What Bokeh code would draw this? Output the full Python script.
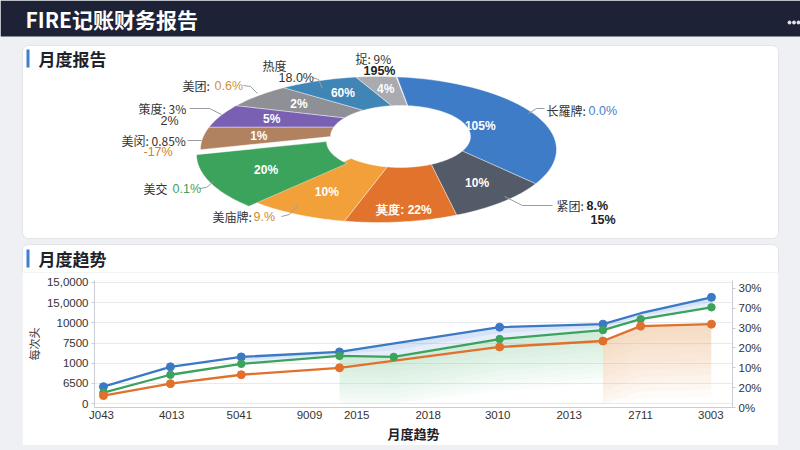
import numpy as np
from bokeh.plotting import figure
from bokeh.layouts import column, row
from bokeh.models import Range1d, LinearAxis, FixedTicker
from bokeh.core.properties import value
from bokeh.embed import file_html
from bokeh.resources import INLINE

CJK = "Noto Sans CJK SC"
LAT = "Liberation Sans"
BG = "#eef0f3"

# ---------------- donut: monthly report ----------------
slice_share = [31.1, 10.0, 10.3, 9.4, 12.5, 5.0, 5.3, 5.8, 6.9, 3.6]
slice_text = ["105%", "10%", "莫度: 22%", "10%", "20%", "1%", "5%", "2%", "60%", "4%"]
slice_color = ["#3f7cc8", "#535a68", "#e2732c", "#f2a03a", "#3ca35c",
               "#b0825f", "#7a60b2", "#8e9096", "#3f86b6", "#a9abb0"]

callout_name = ["长羅牌:", "紧团:", "美庙牌:", "美交", "美闵: 0.85%", "策度: 3%", "美团:", "热度", "捉: 9%"]
callout_value = ["0.0%", "8.%", "9.%", "0.1%", "", "", "0.6%", "", ""]
callout_sub = ["", "15%", "", "", "-17%", "2%", "", "18.0%", "195%"]

# ---------------- trend chart ----------------
x_tick_at = [1.1, 12.1, 22.7, 33.7, 41.1, 52.3, 63.2, 74.4, 85.6, 96.6]
x_tick_text = ["J043", "4013", "5041", "9009", "2015", "2018", "3010", "2013", "2711", "3003"]
y_left_ticks = [0, 2500, 5000, 7500, 10000, 12500, 15000]
y_left_text = ["0", "6500", "1000", "7500", "10000", "15,0000", "15,0000"]
y_right_ticks = [0, 1, 2, 3, 4, 5, 6]
y_right_text = ["0%", "20%", "10%", "20%", "30%", "70%", "30%"]

blue_x = [1.4, 11.9, 23.0, 38.4, 63.5, 79.7, 85.6, 96.7]
blue_y = [2090, 4549, 5779, 6393, 9467, 9836, 11188, 13155]
green_x = [1.4, 11.9, 23.0, 38.4, 46.9, 63.5, 79.7, 85.6, 96.7]
green_y = [1352, 3566, 4918, 5902, 5779, 7992, 9098, 10451, 11926]
orange_x = [1.4, 11.9, 23.0, 38.4, 63.5, 79.7, 85.6, 96.7]
orange_y = [984, 2459, 3566, 4426, 7008, 7746, 9590, 9836]

BLUE, GREEN, ORANGE = "#3b79c4", "#3ca35c", "#e0702c"

# =========== top canvas: header, report card, donut ===========
p1 = figure(width=800, height=272, x_range=Range1d(0, 800), y_range=Range1d(272, 0),
            output_backend="svg", toolbar_location=None, min_border=0,
            x_axis_location=None, y_axis_location=None)
p1.grid.visible = False
p1.outline_line_color = None
p1.background_fill_color = BG
p1.border_fill_color = BG

# header bar
p1.quad(left=0, right=800, top=0, bottom=36, fill_color="#1d2236", line_color=None)
p1.text(x=[25], y=[18], text=["FIRE记账财务报告"], text_font=value(CJK), text_font_size="21px",
        text_font_style="bold", text_color="#ffffff", text_baseline="middle")
p1.scatter(x=[789, 793.5, 798], y=[22, 22, 22], size=3, color="#e8eaf0")

# cards
p1.quad(left=22, right=778, top=45, bottom=238, fill_color="#ffffff", line_color="#e2e4e8",
        border_radius=6)
p1.quad(left=22, right=778, top=244, bottom=300, fill_color="#ffffff", line_color="#e2e4e8",
        border_radius=6)
for ty, title in [(58, "月度报告"), (258, "月度趋势")]:
    p1.quad(left=26, right=29, top=ty - 9, bottom=ty + 9, fill_color="#3d7fd0", line_color=None)
    p1.text(x=[38], y=[ty], text=[title], text_font=value(CJK), text_font_size="17px",
            text_font_style="bold", text_color="#1f2329", text_baseline="middle")

# elliptical ring seen in perspective
OCX, OCY, ORX, ORY = 378, 149, 178, 73
ICX, ICY, IRX, IRY = 400, 136, 70, 31
explode = {4: (-4, 5)}

xs, ys, cxs, cys = [], [], [], []
t0 = 84.0
for i, share in enumerate(slice_share):
    span = share / 100 * 360
    t = np.radians(np.linspace(t0, t0 - span, 40))
    dx, dy = explode.get(i, (0, 0))
    ox = OCX + ORX * np.cos(t) + dx
    oy = OCY - ORY * np.sin(t) + dy
    ix = ICX + IRX * np.cos(t[::-1]) + dx
    iy = ICY - IRY * np.sin(t[::-1]) + dy
    px = np.concatenate([ox, ix])
    py = np.concatenate([oy, iy])
    xs.append(px)
    ys.append(py)
    # polygon centroid for the in-slice label
    x1, y1 = np.roll(px, -1), np.roll(py, -1)
    cr = px * y1 - x1 * py
    a = cr.sum() / 2
    cxs.append(((px + x1) * cr).sum() / (6 * a))
    cys.append(((py + y1) * cr).sum() / (6 * a))
    t0 -= span

p1.patches(xs=xs, ys=ys, fill_color=slice_color, line_color="#ffffff", line_width=0.8, line_alpha=0.5)
cys[2] += 12
cxs[0] -= 10
p1.text(x=cxs, y=cys, text=slice_text, text_font=value(LAT), text_font_size="12px",
        text_font_style="bold", text_color="#ffffff", text_align="center", text_baseline="middle")

# callouts around the ring
name_pos = [(546, 110), (556, 205), (212, 216), (143, 188), (121, 140), (138, 108), (182, 85), (262, 65), (355, 58)]
value_x = [588, 586, 253, 172, None, None, 214, None, None]
value_col = ["#4a80c4", "#222222", "#d08a2e", "#3ca35c", None, None, "#d0923e", None, None]
value_bold = [False, True, False, False, False, False, False, False, False]
sub_pos = [None, (590, 219), None, None, (143, 151), (160, 120), None, (278, 77), (363, 70)]
sub_col = [None, "#222222", None, None, "#d0802e", "#333333", None, "#333333", "#222222"]
sub_bold = [False, True, False, False, False, False, False, False, True]
leaders = [
    [(528, 113), (536, 108), (544, 108)],
    [(504, 196), (522, 205), (552, 205)],
    [(281, 216), (289, 214), (297, 205)],
    [(199, 188), (206, 187), (213, 181)],
    [(187, 140), (201, 140)],
    [(189, 108), (209, 108), (221, 114)],
    [(243, 85), (250, 86), (257, 93)],
    [(312, 77), (318, 79), (322, 88)],
]
p1.multi_line(xs=[[q[0] for q in l] for l in leaders], ys=[[q[1] for q in l] for l in leaders],
              line_color="#9a9ca3", line_width=1)
for i, name in enumerate(callout_name):
    nx, ny = name_pos[i]
    p1.text(x=[nx], y=[ny], text=[name], text_font=value(CJK), text_font_size="12px",
            text_color="#333333", text_baseline="middle")
    if callout_value[i]:
        p1.text(x=[value_x[i]], y=[ny], text=[callout_value[i]], text_font=value(LAT),
                text_font_size="12.5px", text_color=value_col[i], text_baseline="middle",
                text_font_style="bold" if value_bold[i] else "normal")
    if callout_sub[i]:
        sx, sy = sub_pos[i]
        p1.text(x=[sx], y=[sy], text=[callout_sub[i]], text_font=value(LAT),
                text_font_size="12.5px", text_color=sub_col[i], text_baseline="middle",
                text_font_style="bold" if sub_bold[i] else "normal")

# =========== bottom canvas: monthly trend ===========
p2 = figure(width=756, height=173, x_range=Range1d(0, 100), y_range=Range1d(-492, 15246),
            output_backend="svg", toolbar_location=None,
            min_border_left=66, min_border_right=46, min_border_top=8, min_border_bottom=37)
p2.outline_line_color = None
p2.background_fill_color = "#ffffff"
p2.border_fill_color = "#ffffff"
p2.xgrid.visible = False
p2.ygrid.grid_line_color = "#e8e9ec"
p2.ygrid.ticker = FixedTicker(ticks=y_left_ticks)

p2.extra_y_ranges = {"pct": Range1d(0, 6.4)}
right = LinearAxis(y_range_name="pct", ticker=FixedTicker(ticks=y_right_ticks),
                   major_label_overrides={t: s for t, s in zip(y_right_ticks, y_right_text)})
p2.add_layout(right, "right")

p2.xaxis.ticker = FixedTicker(ticks=x_tick_at)
p2.xaxis.major_label_overrides = {t: s for t, s in zip(x_tick_at, x_tick_text)}
p2.xaxis.axis_label = "月度趋势"
p2.xaxis.axis_label_text_font = CJK
p2.xaxis.axis_label_text_font_size = "13px"
p2.xaxis.axis_label_text_font_style = "bold"
p2.xaxis.axis_label_text_color = "#1f2329"
p2.yaxis[0].ticker = FixedTicker(ticks=y_left_ticks)
p2.yaxis[0].major_label_overrides = {t: s for t, s in zip(y_left_ticks, y_left_text)}
p2.yaxis[0].axis_label = "每次头"
p2.yaxis[0].axis_label_text_font = CJK
p2.yaxis[0].axis_label_text_font_size = "11px"
p2.yaxis[0].axis_label_text_font_style = "normal"
p2.yaxis[0].axis_label_text_color = "#333333"
p2.yaxis[0].axis_label_standoff = 2
for ax in p2.axis:
    ax.axis_line_color = "#c9ccd2"
    ax.major_tick_line_color = "#c9ccd2"
    ax.major_tick_in = 0
    ax.major_tick_out = 3
    ax.minor_tick_line_color = None
    ax.major_label_text_font = LAT
    ax.major_label_text_font_size = "11.5px"
    ax.major_label_text_color = "#333333"
    ax.major_label_standoff = 3
p2.xaxis.major_tick_out = 0
p2.xaxis.major_label_standoff = 1
p2.xaxis.axis_label_standoff = 0


def fade_area(fig, x, y, depth, color, layers=10, alpha=0.045):
    x = np.asarray(x, float)
    y = np.asarray(y, float)
    for k in range(layers):
        low = np.maximum(y - depth * (k + 1) / layers, 0)
        fig.varea(x=x, y1=low, y2=y, fill_color=color, fill_alpha=alpha)


# soft band between the blue and green series
band_x = np.linspace(23.0, 96.7, 120)
band_hi = np.interp(band_x, blue_x, blue_y)
band_lo = np.interp(band_x, green_x, green_y)
p2.varea(x=band_x, y1=band_lo, y2=band_hi, fill_color="#7fa8e6", fill_alpha=0.2)
p2.varea(x=band_x, y1=(band_lo + band_hi) / 2, y2=band_hi, fill_color="#7fa8e6", fill_alpha=0.14)

# fading fill under green (middle) and orange (right) segments
gx = [v for v in green_x if 38.4 <= v <= 79.7]
gy = [green_y[green_x.index(v)] for v in gx]
fade_area(p2, gx, gy, 6500, "#8fd0a4")
ox = [v for v in orange_x if v >= 79.7]
oy = [orange_y[orange_x.index(v)] for v in ox]
fade_area(p2, ox, oy, 9000, "#f5b27e", alpha=0.05)

for xv, yv, col in [(green_x, green_y, GREEN), (orange_x, orange_y, ORANGE), (blue_x, blue_y, BLUE)]:
    p2.line(xv, yv, line_color=col, line_width=2.3)

p2.scatter([v for i, v in enumerate(blue_x) if i != 6], [v for i, v in enumerate(blue_y) if i != 6],
           size=8, color=BLUE)
p2.scatter(green_x, green_y, size=7.5, color=GREEN)
p2.scatter(orange_x, orange_y, size=8, color=ORANGE)

# each canvas in its own box so their frames are laid out independently
top_box = row(p1, spacing=0)
bottom_box = row(p2, spacing=0,
                 styles={"padding-left": "22px", "padding-right": "22px", "padding-bottom": "5px"})
root = column(top_box, bottom_box, spacing=0, styles={"background-color": BG})
open("out.html", "w").write(file_html(root, INLINE))
